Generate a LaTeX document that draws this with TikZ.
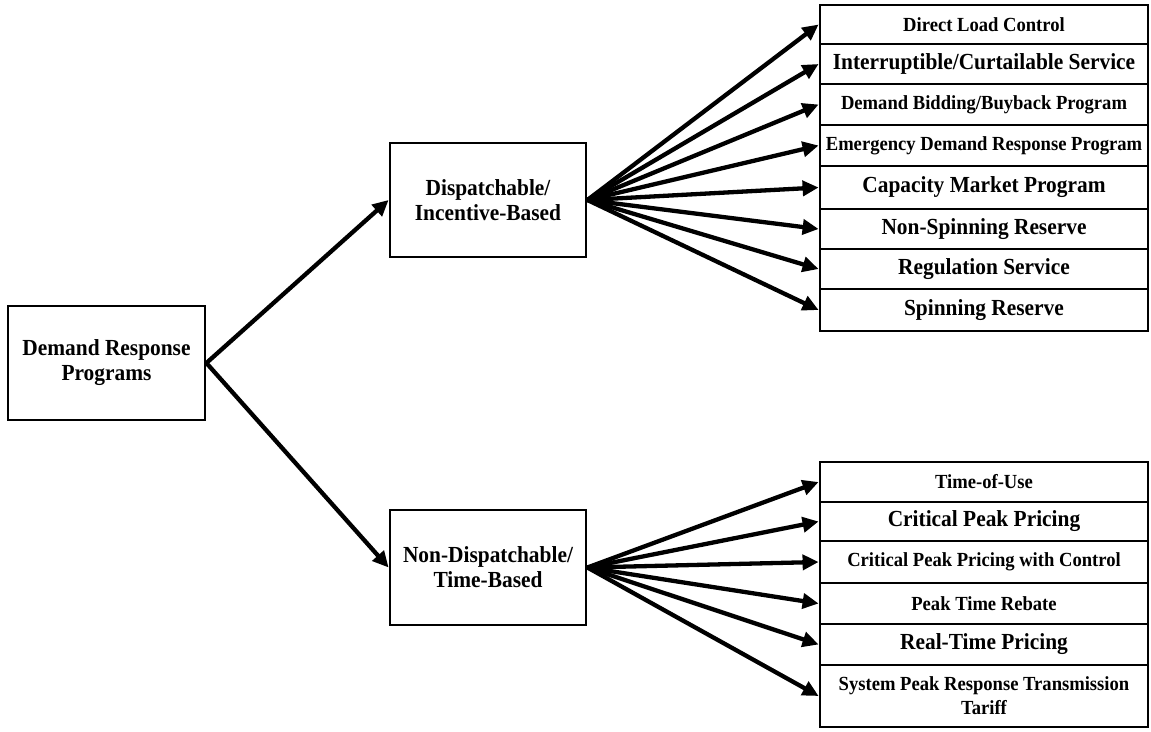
\documentclass[tikz,border=0pt]{standalone}
\usepackage{fontspec}
\setmainfont{Liberation Serif}[FakeStretch=0.93]
\usetikzlibrary{arrows.meta}
\begin{document}
\begin{tikzpicture}[x=1pt,y=-1pt,
  box/.style={draw, line width=2.8pt, rectangle, inner sep=0pt, align=center,
    font=\bfseries\fontsize{23}{25}\selectfont},
  hub/.style={box, minimum width=196pt, minimum height=114pt},
  leaf/.style={box, minimum width=328pt},
  small/.style={font=\bfseries\fontsize{20}{24}\selectfont},
  conn/.style={line width=4.3pt, -{Triangle[length=16pt,width=15pt]}}]
\useasboundingbox (0,0) rectangle (1151,731);

% main categories
\node[hub, minimum width=197pt] (root) at (106.5,363) {Demand Response\\Programs};
\node[hub] (disp) at (488,200) {Dispatchable/\\Incentive-Based};
\node[hub, minimum height=115pt] (ndisp) at (488,567.5) {Non-Dispatchable/\\Time-Based};

% incentive-based programs
\node[leaf, small, minimum height=39pt] (d1) at (984,24.5) {Direct Load Control};
\node[leaf, minimum height=40pt] (d2) at (984,64) {Interruptible/Curtailable Service};
\node[leaf, small, minimum height=41pt] (d3) at (984,104.5) {Demand Bidding/Buyback Program};
\node[leaf, small, minimum height=41pt] (d4) at (984,145.5) {Emergency Demand Response Program};
\node[leaf, minimum height=43pt] (d5) at (984,187.5) {Capacity Market Program};
\node[leaf, minimum height=40pt] (d6) at (984,229) {Non-Spinning Reserve};
\node[leaf, minimum height=40pt] (d7) at (984,269) {Regulation Service};
\node[leaf, minimum height=42pt] (d8) at (984,310) {Spinning Reserve};

% time-based programs
\node[leaf, small, minimum height=40pt] (n1) at (984,482) {Time-of-Use};
\node[leaf, minimum height=39pt] (n2) at (984,521.5) {Critical Peak Pricing};
\node[leaf, small, minimum height=42pt] (n3) at (984,562) {Critical Peak Pricing with Control};
\node[leaf, small, minimum height=41pt] (n4) at (984,603.5) {Peak Time Rebate};
\node[leaf, minimum height=41pt] (n5) at (984,644.5) {Real-Time Pricing};
\node[leaf, small, minimum height=62pt] (n6) at (984,696) {System Peak Response Transmission\\Tariff};

% connectors
\draw[conn] (root.east) -- (disp.west);
\draw[conn] (root.east) -- (ndisp.west);
\foreach \k in {d1,d2,d3,d4,d5,d6,d7,d8}
  \draw[conn] (disp.east) -- (\k.west);
\foreach \k in {n1,n2,n3,n4,n5,n6}
  \draw[conn] (ndisp.east) -- (\k.west);
\end{tikzpicture}
\end{document}
